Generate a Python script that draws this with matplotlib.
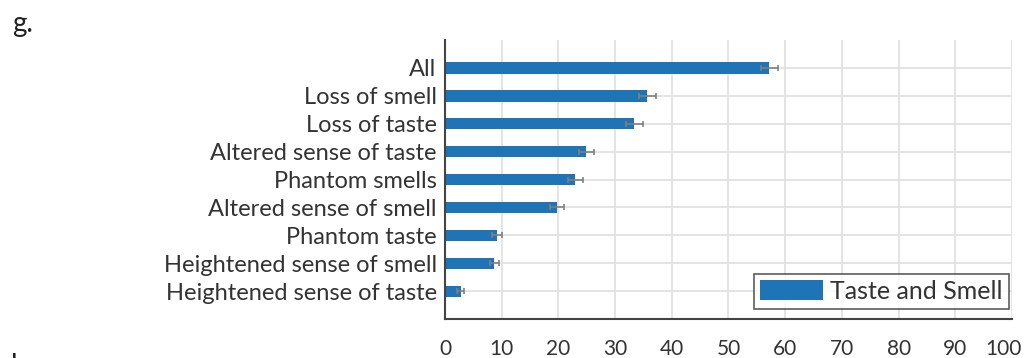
import matplotlib.pyplot as plt
import matplotlib.transforms as mtransforms
from matplotlib.patches import Patch

# Taste and smell symptoms, percentage of respondents (top to bottom)
symptoms = [
    "All", "Loss of smell", "Loss of taste", "Altered sense of taste",
    "Phantom smells", "Altered sense of smell", "Phantom taste",
    "Heightened sense of smell", "Heightened sense of taste"
]
percent = [57.2, 35.7, 33.4, 24.9, 23.0, 19.8, 9.2, 8.7, 2.8]
err = [1.5, 1.5, 1.5, 1.3, 1.3, 1.2, 0.9, 0.8, 0.6]

bar_color = '#1f74b6'
text_color = '#333333'

plt.rcParams['font.family'] = ['Lato', 'DejaVu Sans']

fig = plt.figure(figsize=(10.3, 3.58), dpi=100)
ax = fig.add_axes([0.432, 0.108, 0.5505, 0.781])

ypos = list(range(len(symptoms), 0, -1))
ax.barh(ypos, percent, height=0.42, color=bar_color, zorder=2)
ax.errorbar(percent, ypos, xerr=err, fmt='none', ecolor='#808080',
            elinewidth=1.2, capsize=2, capthick=1.2, zorder=3)

ax.set_xlim(0, 100)
ax.set_ylim(0, 10)
ax.set_xticks(range(0, 101, 10))
ax.set_yticks(ypos)
ax.set_yticklabels(symptoms)
ax.tick_params(axis='both', length=0, colors=text_color)
ax.tick_params(axis='y', pad=6, labelsize=17)
ax.tick_params(axis='x', pad=14, labelsize=15)

# keep the "100" label inside the figure
last = ax.get_xticklabels()[-1]
last.set_transform(last.get_transform() +
                   mtransforms.ScaledTranslation(-6 / 72, 0, fig.dpi_scale_trans))

ax.grid(True, color='#e2e2e2', linewidth=1.3, zorder=0)
ax.set_axisbelow(True)
for side in ('top', 'right'):
    ax.spines[side].set_visible(False)
for side in ('left', 'bottom'):
    ax.spines[side].set_color('#444444')
    ax.spines[side].set_linewidth(1.5)

leg = ax.legend(handles=[Patch(facecolor=bar_color, label='Taste and Smell')],
                loc='lower right', bbox_to_anchor=(0.995, 0.036),
                borderaxespad=0, fontsize=18, frameon=True, fancybox=False,
                handlelength=2.5, handleheight=0.85, handletextpad=0.3,
                borderpad=0.25, labelcolor=text_color)
leg.get_frame().set_edgecolor('#333333')
leg.get_frame().set_linewidth(1.2)

fig.text(0.012, 0.91, 'g.', fontsize=20, color='#222222')
fig.text(0.011, -0.045, 'h.', fontsize=20, color='#222222')

fig.savefig('out.png', dpi=100)
